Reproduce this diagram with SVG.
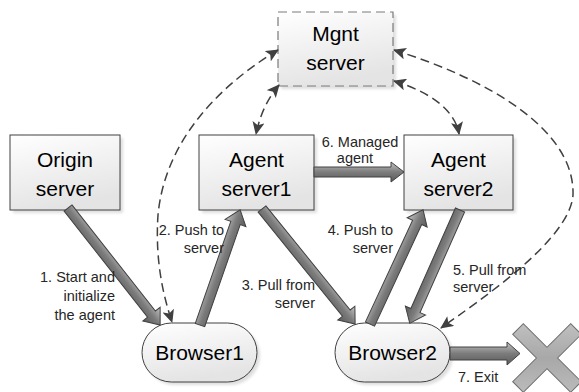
<svg xmlns="http://www.w3.org/2000/svg" width="579" height="392" viewBox="0 0 579 392">
<style>
.box{fill:url(#boxg);stroke:#404040;stroke-width:1}
.mg{fill:url(#boxg);stroke:#7a7a7a;stroke-width:1.2;stroke-dasharray:9 5}
.sh{fill:#000;opacity:0.13}
.nt{font-family:"Liberation Sans",Arial,sans-serif;font-size:21px;fill:#000;text-anchor:middle}
.lb{font-family:"Liberation Sans",Arial,sans-serif;font-size:14.5px;fill:#262626}
.dash{fill:none;stroke:#404040;stroke-width:1.5;stroke-dasharray:9 5;marker-start:url(#ah);marker-end:url(#ah)}
.thick{fill:url(#arg);stroke:#404040;stroke-width:1}
</style>
<defs>
<linearGradient id="boxg" x1="0" y1="0" x2="0.3" y2="1">
<stop offset="0" stop-color="#ffffff"/>
<stop offset="1" stop-color="#e4e4e4"/>
</linearGradient>
<linearGradient id="arg" x1="0" y1="0" x2="0" y2="1">
<stop offset="0" stop-color="#c4c4c4"/>
<stop offset="0.5" stop-color="#7c7c7c"/>
<stop offset="1" stop-color="#5a5a5a"/>
</linearGradient>
<linearGradient id="xg" x1="0" y1="0" x2="1" y2="1">
<stop offset="0" stop-color="#d0d0d0"/>
<stop offset="0.5" stop-color="#a8a8a8"/>
<stop offset="1" stop-color="#c8c8c8"/>
</linearGradient>
<filter id="blur" x="-10%" y="-10%" width="120%" height="120%"><feGaussianBlur stdDeviation="1.5"/></filter>
<marker id="ah" markerUnits="userSpaceOnUse" markerWidth="14" markerHeight="12" refX="12" refY="6" orient="auto-start-reverse" viewBox="0 0 14 12">
<path d="M0,0 L13,6 L0,12 L3,6 Z" fill="#404040"/>
</marker>
</defs>

<g id="origin">
<rect class="sh" x="13" y="138" width="110" height="75" filter="url(#blur)"/>
<rect class="box" x="10" y="135" width="110" height="75"/>
<text class="nt" x="65" y="167">Origin</text>
<text class="nt" x="65" y="196">server</text>
</g>
<g id="agent1">
<rect class="sh" x="202" y="138" width="115" height="75" filter="url(#blur)"/>
<rect class="box" x="199" y="135" width="115" height="75"/>
<text class="nt" x="256.5" y="167">Agent</text>
<text class="nt" x="256.5" y="196">server1</text>
</g>
<g id="agent2">
<rect class="sh" x="407" y="138" width="109" height="75" filter="url(#blur)"/>
<rect class="box" x="404" y="135" width="109" height="75"/>
<text class="nt" x="458.5" y="167">Agent</text>
<text class="nt" x="458.5" y="196">server2</text>
</g>
<g id="mgnt">
<rect class="sh" x="281" y="15" width="115" height="74" filter="url(#blur)"/>
<rect class="mg" x="278" y="12" width="115" height="74"/>
<text class="nt" x="335.5" y="41">Mgnt</text>
<text class="nt" x="335.5" y="70">server</text>
</g>
<g id="browser1">
<rect class="sh" x="145" y="326" width="115" height="59" rx="29.5" filter="url(#blur)"/>
<rect class="box" x="142" y="323" width="115" height="59" rx="29.5"/>
<text class="nt" x="199.5" y="360">Browser1</text>
</g>
<g id="browser2">
<rect class="sh" x="338" y="326" width="115" height="59" rx="29.5" filter="url(#blur)"/>
<rect class="box" x="335" y="323" width="115" height="59" rx="29.5"/>
<text class="nt" x="392.5" y="360">Browser2</text>
</g>
<g id="exit">
<polygon transform="translate(547,358) rotate(45)" points="-7.5,-41 7.5,-41 7.5,-7.5 41,-7.5 41,7.5 7.5,7.5 7.5,41 -7.5,41 -7.5,7.5 -41,7.5 -41,-7.5 -7.5,-7.5" fill="url(#xg)" stroke="#6e6e6e" stroke-width="1"/>
</g>

<g id="connectors">
<g transform="translate(68,208) rotate(51.8)"><path class="thick" d="M0,-5 L135,-5 L135,-11 L149,0 L135,11 L135,5 L0,5 Z"/></g>
<g transform="translate(200,325) rotate(-70.8)"><path class="thick" d="M0,-5 L108,-5 L108,-11 L122,0 L108,11 L108,5 L0,5 Z"/></g>
<g transform="translate(262,209) rotate(51)"><path class="thick" d="M0,-5 L134,-5 L134,-11 L148,0 L134,11 L134,5 L0,5 Z"/></g>
<g transform="translate(370,324) rotate(-65.1)"><path class="thick" d="M0,-5 L112,-5 L112,-11 L126,0 L112,11 L112,5 L0,5 Z"/></g>
<g transform="translate(460,210) rotate(113.9)"><path class="thick" d="M0,-5 L110,-5 L110,-11 L124,0 L110,11 L110,5 L0,5 Z"/></g>
<g transform="translate(314,172)"><path class="thick" d="M0,-5 L77,-5 L77,-10 L90,0 L77,10 L77,5 L0,5 Z"/></g>
<g transform="translate(450,353.5)"><path class="thick" d="M0,-6.5 L57,-6.5 L57,-11.5 L70,0 L57,11.5 L57,6.5 L0,6.5 Z"/></g>

<path class="dash" d="M278,50 C220,85 165,140 158,215 C155,260 163,295 172,322"/>
<path class="dash" d="M279,85 Q262,105 256,134"/>
<path class="dash" d="M394,81 C430,92 455,110 459,134"/>
<path class="dash" d="M394,50 C490,80 575,130 573,195 C570,240 480,300 441,328"/>
</g>

<g id="labels">
<text class="lb" text-anchor="end" x="115" y="282">1. Start and</text>
<text class="lb" text-anchor="end" x="115" y="301">initialize</text>
<text class="lb" text-anchor="end" x="115" y="320">the agent</text>
<text class="lb" text-anchor="end" x="224" y="235">2. Push to</text>
<text class="lb" text-anchor="end" x="224" y="253">server</text>
<text class="lb" text-anchor="end" x="315" y="290">3. Pull from</text>
<text class="lb" text-anchor="end" x="315" y="308">server</text>
<text class="lb" text-anchor="end" x="393" y="235">4. Push to</text>
<text class="lb" text-anchor="end" x="393" y="253">server</text>
<text class="lb" x="453" y="275">5. Pull from</text>
<text class="lb" x="453" y="292">server</text>
<text class="lb" text-anchor="middle" x="360" y="147">6. Managed</text>
<text class="lb" text-anchor="middle" x="355" y="163">agent</text>
<text class="lb" x="458" y="382">7. Exit</text>
</g>
</svg>
